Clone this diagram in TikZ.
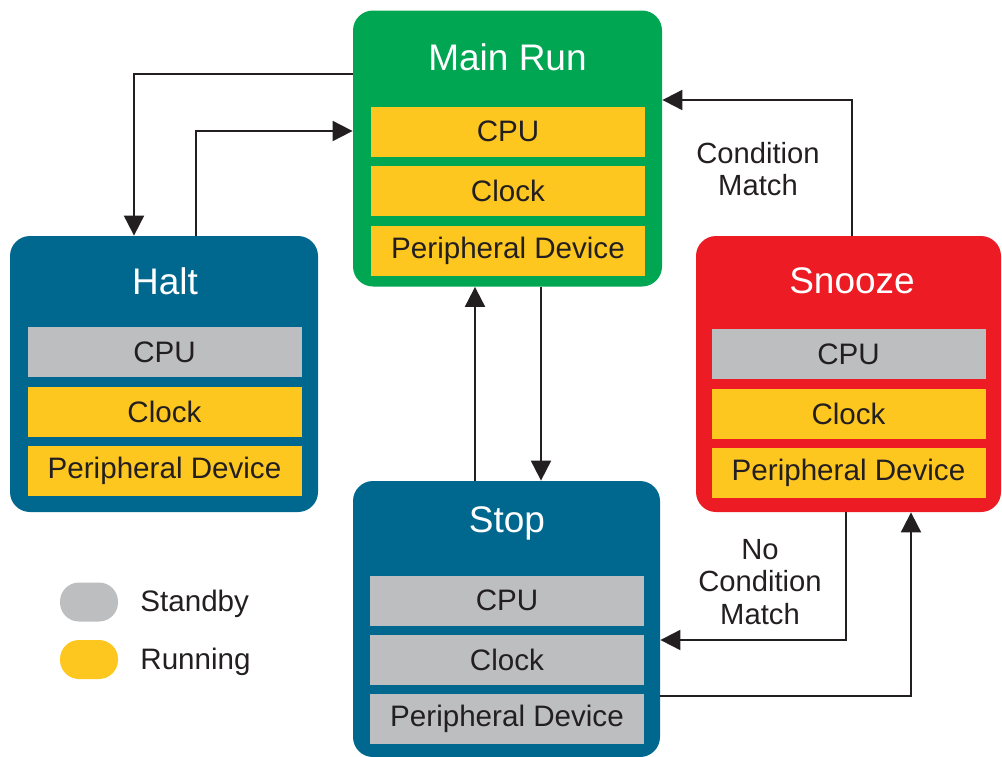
\documentclass[tikz,border=0pt]{standalone}
\usepackage{fontspec}
\setmainfont{Liberation Sans}
\usepackage{tikz}
\usetikzlibrary{arrows.meta}
\usetikzlibrary{positioning}

\definecolor{stategreen}{HTML}{00A651}
\definecolor{stateblue}{HTML}{00688F}
\definecolor{statered}{HTML}{ED1C24}
\definecolor{runcol}{HTML}{FDC720}
\definecolor{sbycol}{HTML}{BCBEC0}
\definecolor{ink}{HTML}{231F20}

\begin{document}
\begin{tikzpicture}[x=0.5pt, y=-0.5pt,
    state/.style={rectangle, rounded corners=10pt, inner sep=0pt, minimum height=138pt},
    title/.style={text=white, font=\fontsize{18.5}{20}\selectfont},
    bar/.style={rectangle, inner sep=0pt, minimum width=137pt, minimum height=25pt, text=ink, font=\fontsize{14.8}{16}\selectfont},
    run/.style={bar, fill=runcol},
    sby/.style={bar, fill=sbycol},
    pill/.style={rectangle, rounded corners=9.5pt, minimum width=29pt, minimum height=19.5pt, inner sep=0pt},
    txt/.style={text=ink, align=center, font=\fontsize{14.6}{16.2}\selectfont},
    link/.style={draw=ink, line width=1pt, -{Triangle[length=10pt, width=10pt]}}]

        \useasboundingbox (0,0) rectangle (1002,756);

        % State boxes
        \node[state, fill=stategreen, minimum width=154.5pt] (main) at (507.5, 148.5) {};
        \node[state, fill=stateblue, minimum width=154pt] (halt) at (164, 374) {};
        \node[state, fill=statered, minimum width=152.5pt] (snooze) at (848.5, 374) {};
        \node[state, fill=stateblue, minimum width=153.5pt] (stop) at (506.5, 619) {};

        % Titles
        \node[title] (maint) at (507.5, 57) {Main Run};
        \node[title] (haltt) at (165, 281) {Halt};
        \node[title] (snoozet) at (852, 281) {Snooze};
        \node[title] (stopt) at (507, 523) {Stop};

        % Parts of each state, one bar per part
        \foreach \lbl/\sty [count=\i] in {CPU/run, Clock/run, Peripheral Device/run}
          \node[\sty] (main\i) at (508, 72+59.5*\i) {\lbl};

        \foreach \lbl/\sty [count=\i] in {CPU/sby, Clock/run, Peripheral Device/run}
          \node[\sty] (halt\i) at (164.5, 292.5+59.5*\i) {\lbl};

        \foreach \lbl/\sty [count=\i] in {CPU/sby, Clock/run, Peripheral Device/run}
          \node[\sty] (snooze\i) at (848.5, 294.5+59.5*\i) {\lbl};

        \foreach \lbl/\sty [count=\i] in {CPU/sby, Clock/sby, Peripheral Device/sby}
          \node[\sty] (stop\i) at (507, 541.5+59*\i) {\lbl};

        % Transitions
        \draw[link] (main.west |- 0,74) -| (halt.north -| 134,0);
        \draw[link] (halt.north -| 196,0) |- (main.west |- 0,131);
        \draw[link] (main.south -| 541,0) -- (stop.north -| 541,0);
        \draw[link] (stop.north -| 475,0) -- (main.south -| 475,0);
        \draw[link] (snooze.north -| 852,0) |- (main.east |- 0,100);
        \draw[link] (snooze.south -| 846,0) |- (stop.east |- 0,640);
        \draw[link] (stop.east |- 0,696) -| (snooze.south -| 911,0);

        % Transition labels
        \node[txt] (match) at (758, 169) {Condition\\Match};
        \node[txt] (nomatch) at (760, 582) {No\\Condition\\Match};

        % Legend
        \node[pill, fill=sbycol] (keysby) at (89, 602) {};
        \node[pill, fill=runcol] (keyrun) at (89, 659.5) {};
        \node[txt, anchor=west, inner sep=0pt, font=\fontsize{14.8}{16}\selectfont] (keysbyt) at (140, 604) {Standby};
        \node[txt, anchor=west, inner sep=0pt, font=\fontsize{14.8}{16}\selectfont] (keyrunt) at (140, 662) {Running};

      \end{tikzpicture}
\end{document}
